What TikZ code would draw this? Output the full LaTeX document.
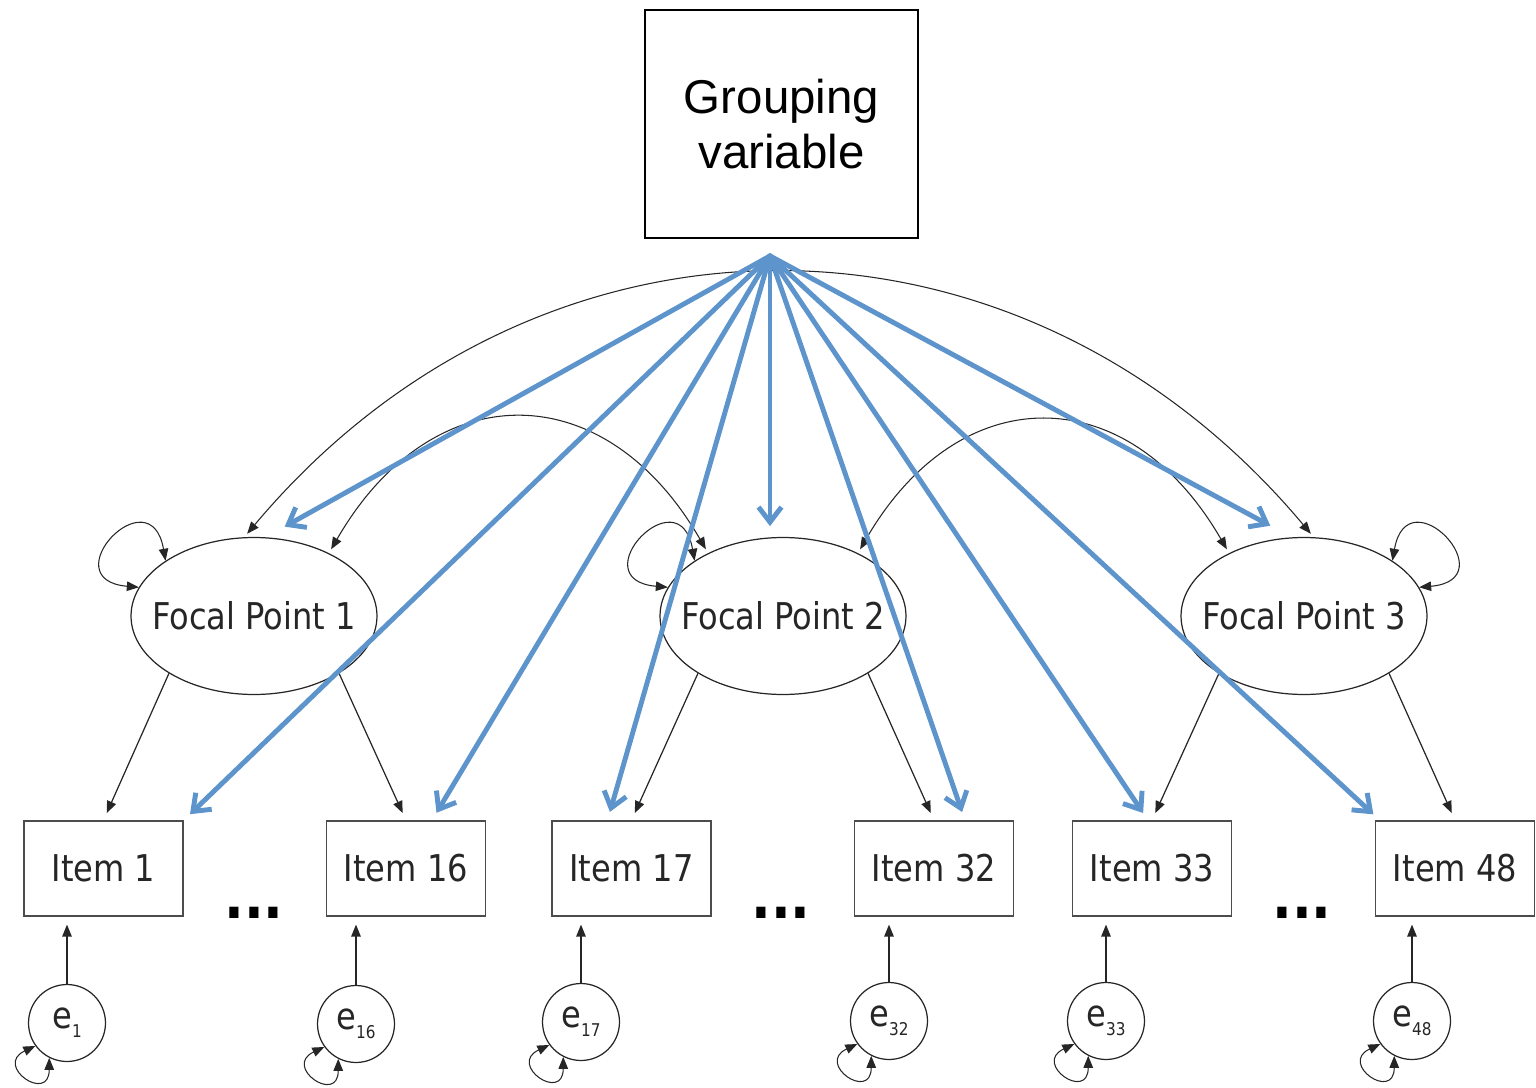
\documentclass[tikz,border=0pt]{standalone}
\usepackage{fontspec}
\setmainfont{Liberation Sans}
\newfontfamily\semfont[FakeStretch=0.87]{DejaVu Sans}
\usepackage{tikz}
\usetikzlibrary{shapes.geometric,arrows.meta,calc}
\definecolor{infblue}{RGB}{93,148,203}
\newcommand\esub[1]{e\raisebox{-5pt}{\fontsize{10}{10}\selectfont #1}}
\newcommand\fpname[1]{\makebox[2cm]{Focal Point #1}}
\tikzset{
  grpbox/.style={rectangle, draw, line width=1.1pt, minimum width=5.46cm, minimum height=4.56cm,
                 align=center, font=\fontsize{27}{31}\selectfont},
  lat/.style={ellipse, draw=black!85, line width=0.7pt, minimum width=4.92cm, minimum height=3.14cm,
              inner sep=0pt, font=\semfont\fontsize{21}{25}\selectfont, text=black!85},
  obs/.style={rectangle, draw=black!70, line width=0.8pt, minimum width=3.18cm, minimum height=1.9cm,
              font=\semfont\fontsize{21}{25}\selectfont, text=black!85},
  err/.style={circle, draw=black!85, line width=0.7pt, minimum size=1.54cm, inner sep=0pt,
              font=\semfont\fontsize{21}{25}\selectfont, text=black!85},
  skipdots/.style={anchor=base, font=\semfont\fontsize{34}{34}\bfseries},
  loading/.style={->, line width=0.7pt, black!85, shorten >=4.5pt},
  cov/.style={<->, line width=0.6pt, black!85, shorten >=2.5pt, shorten <=2.5pt},
  vloop/.style={<->, line width=0.6pt, black!85},
  infl/.style={-{Straight Barb[length=3mm,width=4.6mm]}, line width=2.8pt, infblue,
               line cap=round, shorten >=5pt}
}
\begin{document}
\begin{tikzpicture}[x=0.02cm, y=0.02cm, >={Triangle[length=2.4mm,width=1.9mm]}]
\useasboundingbox (0,0) rectangle (1536,-1088);
% grouping variable
\node[grpbox] (grp) at (781.5,-124) {Grouping\\variable};
\coordinate (src) at ($(grp.south)+(-11.5,-17)$);
% focal points
\node[lat] (fp1) at (254,-616) {\fpname{1}};
\node[lat] (fp2) at (783,-616) {\fpname{2}};
\node[lat] (fp3) at (1304,-616) {\fpname{3}};
% items
\node[obs] (i1) at (103.5,-868.5) {Item 1};
\node[obs] (i16) at (406,-868.5) {Item 16};
\node[obs] (i17) at (631.5,-868.5) {Item 17};
\node[obs] (i32) at (934,-868.5) {Item 32};
\node[obs] (i33) at (1152,-868.5) {Item 33};
\node[obs] (i48) at (1455,-868.5) {Item 48};
\node[skipdots] (d1) at (254,-918) {...};
\node[skipdots] (d2) at (781,-918) {...};
\node[skipdots] (d3) at (1302,-918) {...};
% residuals
\node[err] (e1) at (67,-1023) {\esub{1}};
\node[err] (e16) at (356,-1024) {\esub{16}};
\node[err] (e17) at (581,-1022) {\esub{17}};
\node[err] (e32) at (889,-1021) {\esub{32}};
\node[err] (e33) at (1106,-1021) {\esub{33}};
\node[err] (e48) at (1412,-1021) {\esub{48}};

% loadings
\draw[loading] (fp1.214) -- (i1.north);
\draw[loading] (fp1.326) -- (i16.north);
\draw[loading] (fp2.214) -- (i17.north);
\draw[loading] (fp2.326) -- (i32.north);
\draw[loading] (fp3.214) -- (i33.north);
\draw[loading] (fp3.326) -- (i48.north);
\foreach \k in {1,16,17,32,33,48}{
  \draw[loading] (e\k.north) -- (e\k.north |- i\k.south);
  \draw[vloop] (e\k.216) to[out=205,in=270,looseness=6.5] (e\k.243);
}
% variances and covariances of focal points
\draw[vloop] (fp1.148) to[out=100,in=175,looseness=6] (fp1.166);
\draw[vloop] (fp2.148) to[out=100,in=175,looseness=6] (fp2.166);
\draw[vloop] (fp3.32) to[out=80,in=5,looseness=6] (fp3.14);
\draw[cov] (fp1.97) to[out=50,in=130,looseness=1.1] (fp3.83);
\draw[cov] (fp1.40) to[out=60,in=120,looseness=1.4] (fp2.140);
\draw[cov] (fp2.40) to[out=60,in=120,looseness=1.4] (fp3.140);

% grouping effects
\foreach \n/\dx/\dy in {fp1.north/23/6, i1.north east/0/0, i16.north/26/0, i17.north/-24/0,
                        fp2.north/-13/2, i32.north/31/0, i33.north/-4/0, i48.north west/5/0,
                        fp3.north/-26/7}
  \draw[infl] (src) -- ([shift={(\dx,\dy)}]\n);
\end{tikzpicture}
\end{document}
